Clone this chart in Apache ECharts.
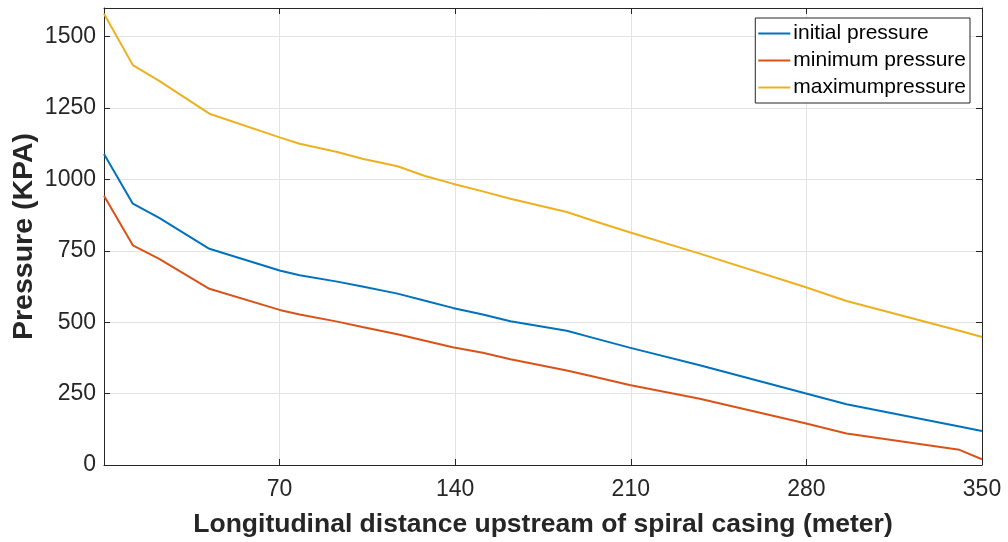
<!DOCTYPE html>
<html>
<head>
<meta charset="utf-8">
<script src="https://cdn.jsdelivr.net/npm/echarts@6/dist/echarts.min.js"></script>
<style>html,body{margin:0;padding:0;background:#fff;}#c{width:1008px;height:542px;}</style>
</head>
<body>
<div id="c"></div>
<script>
const distance = [0, 11.5, 22, 42, 70, 78, 93, 103, 117, 128, 139, 151, 162, 184.5, 195, 209.5, 237.5, 279.5, 296, 341, 350];
const initialPressure = [1089, 915, 865, 757, 681, 664, 642, 625, 600, 575, 550, 527, 503, 470, 445, 411, 349, 251, 213, 135, 119];
const minimumPressure = [943, 769, 722, 617, 543, 527, 502, 483, 458, 435, 412, 393, 370, 331, 310, 280, 232, 146, 110, 53, 20];
const maximumPressure = [1580, 1400, 1345, 1230, 1147, 1125, 1096, 1072, 1046, 1012, 985, 958, 932, 886, 855, 815, 740, 623, 574, 470, 448];
const seriesNames = ['initial pressure', 'minimum pressure', 'maximumpressure'];
const xTitle = 'Longitudinal distance upstream of spiral casing (meter)';
const yTitle = 'Pressure (KPA)';

const font = '"Liberation Sans", Arial, Helvetica, sans-serif';
const axisColor = '#262626';
const colors = ['#0072BD', '#D95319', '#EDB120'];

function pairs(ys) { return distance.map((x, i) => [x, ys[i]]); }

const chart = echarts.init(document.getElementById('c'), null, {renderer: 'canvas'});
const common = {
  axisLine: {show: true, onZero: false, lineStyle: {color: axisColor, width: 1}},
  axisTick: {show: true, inside: true, length: 6, lineStyle: {color: axisColor}},
};
chart.setOption({
  animation: false,
  backgroundColor: '#ffffff',
  color: colors,
  grid: {left: 104, right: 26, top: 8, bottom: 77, containLabel: false, outerBoundsMode: 'none'},
  legend: {
    right: 38, top: 18, orient: 'vertical',
    data: seriesNames,
    itemWidth: 32, itemHeight: 2, itemGap: 6,
    icon: 'rect',
    backgroundColor: '#fff',
    borderColor: axisColor, borderWidth: 1, borderRadius: 0,
    padding: [5, 4, 5, 3],
    textStyle: {fontFamily: font, fontSize: 21, color: '#000', padding: [0, 0, 0, -2]}
  },
  xAxis: [
    Object.assign({
      type: 'value', min: 0, max: 350, interval: 70, position: 'bottom',
      name: xTitle, nameLocation: 'middle', nameGap: 46, nameMoveOverlap: false,
      nameTextStyle: {fontFamily: font, fontSize: 26.5, fontWeight: 'bold', color: axisColor},
      axisLabel: {fontFamily: font, fontSize: 23, color: axisColor, margin: 13,
        formatter: v => v === 0 ? '' : String(v)},
      splitLine: {show: true, lineStyle: {color: '#e3e3e3', width: 1}}
    }, common),
    Object.assign({
      type: 'value', min: 0, max: 350, interval: 70, position: 'top',
      axisLabel: {show: false}, splitLine: {show: false}
    }, common)
  ],
  yAxis: [
    Object.assign({
      type: 'value', min: 0, max: 1600, interval: 250, position: 'left',
      name: yTitle, nameLocation: 'middle', nameGap: 65, nameRotate: 90, nameMoveOverlap: false,
      nameTextStyle: {fontFamily: font, fontSize: 28.5, fontWeight: 'bold', color: axisColor},
      axisLabel: {fontFamily: font, fontSize: 23, color: axisColor, margin: 8,
        formatter: v => v === 1600 ? '' : String(v)},
      splitLine: {show: true, lineStyle: {color: '#e3e3e3', width: 1}}
    }, common),
    Object.assign({
      type: 'value', min: 0, max: 1600, interval: 250, position: 'right',
      axisLabel: {show: false}, splitLine: {show: false}
    }, common)
  ],
  series: [
    {name: seriesNames[0], type: 'line', data: pairs(initialPressure), showSymbol: false, lineStyle: {width: 2}, xAxisIndex: 0, yAxisIndex: 0},
    {name: seriesNames[1], type: 'line', data: pairs(minimumPressure), showSymbol: false, lineStyle: {width: 2}, xAxisIndex: 0, yAxisIndex: 0},
    {name: seriesNames[2], type: 'line', data: pairs(maximumPressure), showSymbol: false, lineStyle: {width: 2}, xAxisIndex: 0, yAxisIndex: 0}
  ]
});
</script>
</body>
</html>
